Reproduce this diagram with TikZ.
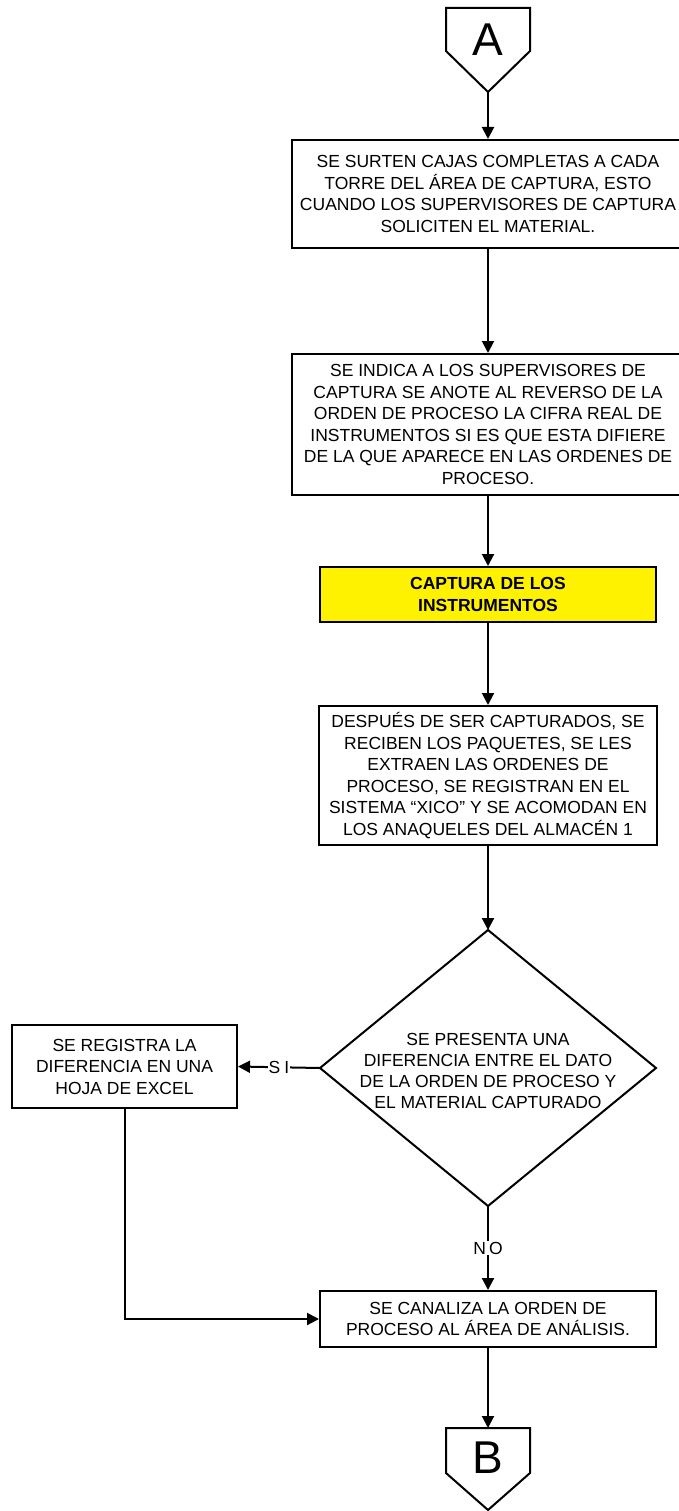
\documentclass[tikz,border=0pt]{standalone}
\usepackage{fontspec}
\setmainfont{Liberation Sans}
\usetikzlibrary{arrows.meta}

\begin{document}
\begin{tikzpicture}[x=1pt,y=-1pt,line width=2pt,
  box/.style={draw,rectangle,inner sep=1pt,align=center,font=\fontsize{17.5}{21.5}\selectfont},
  flow/.style={-{Triangle[width=12pt,length=12pt]}},
  lbl/.style={fill=white,inner sep=1pt,font=\fontsize{17.5}{21.5}\selectfont},
  offpage/.style={inner sep=0pt,font=\fontsize{46}{50}\selectfont}]
\path[use as bounding box] (0,0) rectangle (679,1511);
% connector A
\draw (446,8) -- (530,8) -- (530,51) -- (488,92) -- (446,51) -- cycle;
\node[offpage] (A) at (488,40) {A};
\coordinate (Atip) at (488,92);
\node[box,minimum width=392pt,minimum height=108pt] (surten) at (488,194) {SE SURTEN CAJAS COMPLETAS A CADA\\TORRE DEL ÁREA DE CAPTURA, ESTO\\CUANDO LOS SUPERVISORES DE CAPTURA\\SOLICITEN EL MATERIAL.};
\node[box,minimum width=392pt,minimum height=141pt] (indica) at (488,424.5) {SE INDICA A LOS SUPERVISORES DE\\CAPTURA SE ANOTE AL REVERSO DE LA\\ORDEN DE PROCESO LA CIFRA REAL DE\\INSTRUMENTOS SI ES QUE ESTA DIFIERE\\DE LA QUE APARECE EN LAS ORDENES DE\\PROCESO.};
\node[box,fill=yellow,minimum width=336pt,minimum height=55pt,font=\bfseries\fontsize{17.5}{21.5}\selectfont] (captura) at (488,594.5) {CAPTURA DE LOS\\INSTRUMENTOS};
\node[box,minimum width=338pt,minimum height=139pt] (reciben) at (488,775.5) {DESPUÉS DE SER CAPTURADOS, SE\\RECIBEN LOS PAQUETES, SE LES\\EXTRAEN LAS ORDENES DE\\PROCESO, SE REGISTRAN EN EL\\SISTEMA “XICO” Y SE ACOMODAN EN\\LOS ANAQUELES DEL ALMACÉN 1};
% decision
\coordinate (Dt) at (488,930);
\coordinate (Dr) at (656,1068);
\coordinate (Db) at (488,1206);
\coordinate (Dl) at (320,1068);
\draw (Dt) -- (Dr) -- (Db) -- (Dl) -- cycle;
\node[align=center,inner sep=0pt,font=\fontsize{17.5}{21}\selectfont] (difer) at (488,1071) {SE PRESENTA UNA\\DIFERENCIA ENTRE EL DATO\\DE LA ORDEN DE PROCESO Y\\EL MATERIAL CAPTURADO};
\node[box,minimum width=225pt,minimum height=83pt] (excel) at (124.5,1066.5) {SE REGISTRA LA\\DIFERENCIA EN UNA\\HOJA DE EXCEL};
\node[box,minimum width=336pt,minimum height=56pt] (canaliza) at (488,1319) {SE CANALIZA LA ORDEN DE\\PROCESO AL ÁREA DE ANÁLISIS.};
% connector B
\draw (446,1428) -- (530,1428) -- (530,1473) -- (488,1510) -- (446,1473) -- cycle;
\node[offpage] (B) at (488,1458) {B};
\coordinate (Btop) at (488,1428);
% flow lines
\draw[flow] (Atip) -- (surten.north);
\draw[flow] (surten.south) -- (indica.north);
\draw[flow] (indica.south) -- (captura.north);
\draw[flow] (captura.south) -- (reciben.north);
\draw[flow] (reciben.south) -- (Dt);
\draw[flow] (Dl) -- node[lbl,pos=0.5] {S\hspace{4pt}I} (excel.east);
\draw[flow] (Db) -- node[lbl,pos=0.5] {N\hspace{3pt}O} (canaliza.north);
\draw[flow] (excel.south) |- (canaliza.west);
\draw[flow] (canaliza.south) -- (Btop);
\end{tikzpicture}
\end{document}
